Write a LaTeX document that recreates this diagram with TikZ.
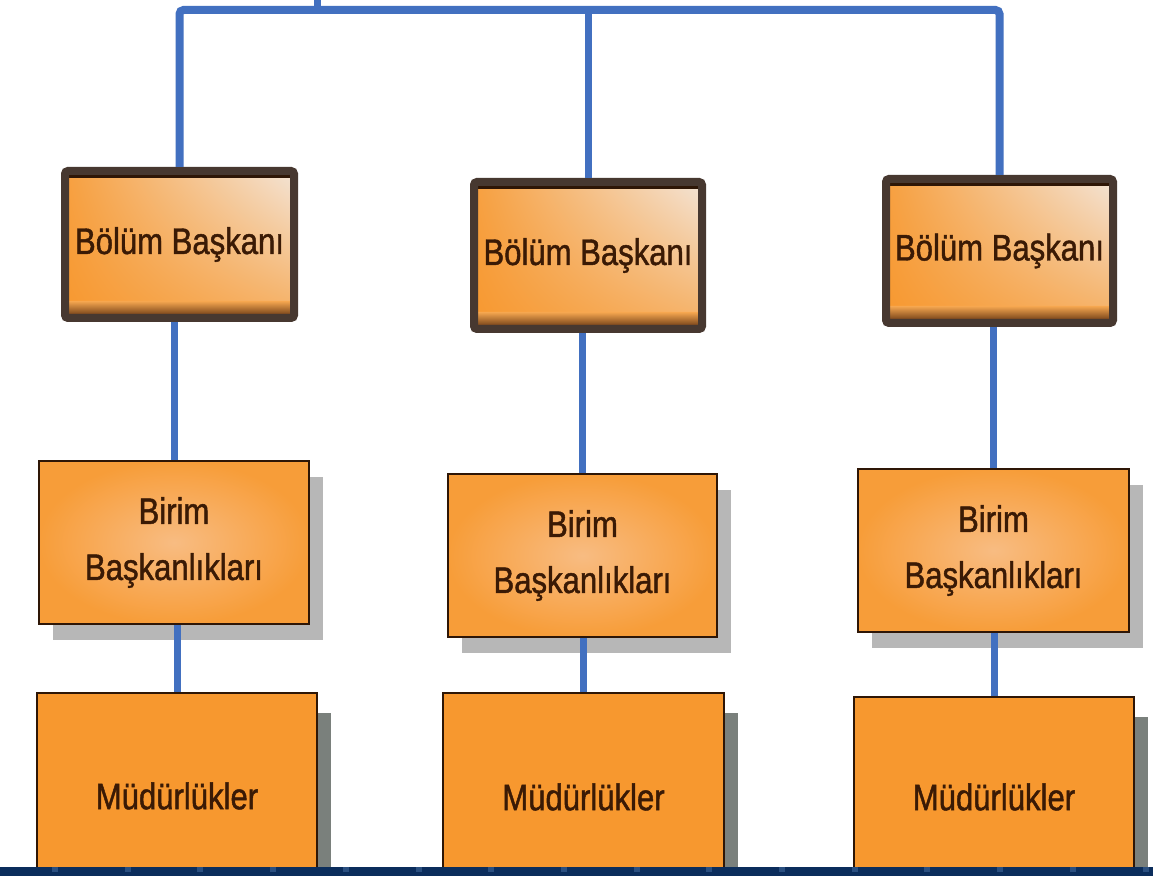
\documentclass[tikz,border=0pt]{standalone}
\usepackage{fontspec}
\newfontfamily\boxfont[FakeStretch=0.84, FakeBold=1.2]{Liberation Sans}
\usetikzlibrary{shadows,shadings}
\definecolor{linkblue}{HTML}{4270C0}
\definecolor{boxorange}{HTML}{F7982F}
\definecolor{lightorange}{HTML}{F8BC82}
\definecolor{cream}{HTML}{F3E4D6}
\definecolor{rimgray}{HTML}{473830}
\definecolor{darkbrown}{HTML}{2E1606}
\definecolor{bevel}{HTML}{5A2C0C}
\definecolor{textbrown}{HTML}{3A1A05}
\definecolor{shadowgray}{HTML}{7A807C}
\definecolor{navy}{HTML}{0B2D5C}
\definecolor{navydot}{HTML}{2A4F80}
\tikzset{
  link/.style={linkblue, line width=3.5pt},
  label/.style={font=\boxfont\fontsize{18.5}{28}\selectfont, text=textbrown, align=center, inner sep=0pt},
  bolumbox/.style={label, rectangle, rounded corners=1.5pt, draw=rimgray, line width=4pt,
    upper left=boxorange!90!cream, upper right=cream, lower left=boxorange, lower right=boxorange!70!cream,
    path picture={
      \fill[darkbrown] (path picture bounding box.north west) rectangle ([yshift=-3.5pt]path picture bounding box.north east);
      \shade[top color=boxorange!80!cream, bottom color=bevel] ([yshift=8.5pt]path picture bounding box.south west) rectangle (path picture bounding box.south east);
    }},
  birimbox/.style={label, rectangle, draw=darkbrown, line width=1.2pt, inner color=lightorange, outer color=boxorange!95!white,
    drop shadow={shadow xshift=7pt, shadow yshift=-8pt, fill=black!35, opacity=0.8}},
  mudurbox/.style={label, rectangle, draw=darkbrown, line width=1.2pt, fill=boxorange,
    drop shadow={shadow xshift=7pt, shadow yshift=-10pt, fill=shadowgray, opacity=1}}
}
\begin{document}
\begin{tikzpicture}[x=0.5pt, y=-0.5pt]
\useasboundingbox (0,0) rectangle (1153,876);
\clip (0,0) rectangle (1153,876);
\fill[white] (0,0) rectangle (1153,876);

\foreach \i/\x/\y/\w/\h in {1/179.5/244.5/114.5/73.5, 2/588/255.5/114/73.5, 3/999.5/251/113.5/72} {
  \node[bolumbox, minimum width=\w pt, minimum height=\h pt] (bolum\i) at (\x,\y) {Bölüm Başkanı};
}
\foreach \i/\x/\y/\w/\h in {1/174/542.5/135/81.5, 2/582.5/555.5/134.5/81.5, 3/993.5/550.5/135.5/81.5} {
  \node[birimbox, minimum width=\w pt, minimum height=\h pt] (birim\i) at (\x,\y) {Birim\\Başkanlıkları};
}
\foreach \i/\x/\y/\w/\h in {1/177/796/140/103, 2/583.5/797/140.5/104, 3/994/797/140/100} {
  \node[mudurbox, minimum width=\w pt, minimum height=\h pt] (mudur\i) at (\x,\y) {Müdürlükler};
}

\coordinate (root) at (317,0);
\coordinate (bar) at (317,10);
\draw[link] (root) -- (bar);
\draw[link, line width=4pt, rounded corners=2pt] (bolum1.north) |- (bar) -| (bolum3.north);
\draw[link] (bolum2.north) -- (bolum2.north |- bar);
\foreach \i in {1,2,3} {
  \draw[link] (birim\i.north) -- (birim\i.north |- bolum\i.south);
  \draw[link] (mudur\i.north) -- (mudur\i.north |- birim\i.south);
}

\fill[navy] (0,867) rectangle (1153,876);
\foreach \k in {0,...,15} {
  \fill[navydot] (52+72.7*\k,867) rectangle (58+72.7*\k,872);
}
\end{tikzpicture}
\end{document}
